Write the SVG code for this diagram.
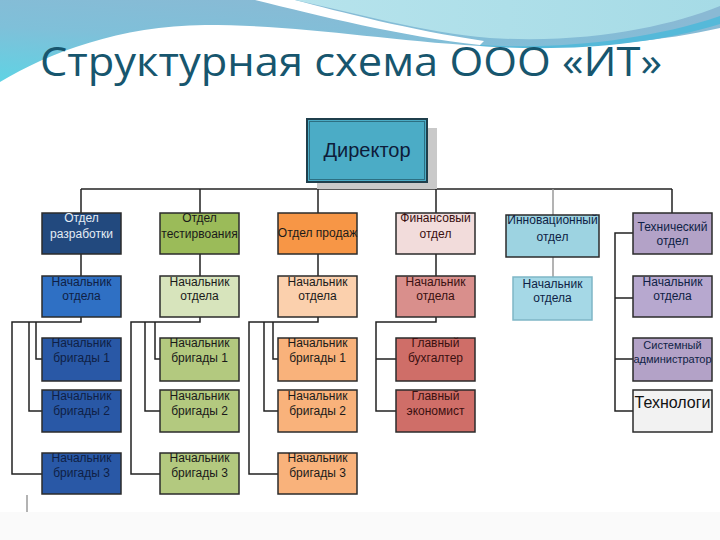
<svg xmlns="http://www.w3.org/2000/svg" width="720" height="540" viewBox="0 0 720 540">
<defs>
<linearGradient id="hdr" x1="0" y1="1" x2="0.6" y2="0">
<stop offset="0" stop-color="#5fd3e4"/>
<stop offset="0.5" stop-color="#7fc0d9"/>
<stop offset="1" stop-color="#8ab9d4"/>
</linearGradient>
<linearGradient id="cyan" x1="0" y1="0" x2="1" y2="0">
<stop offset="0" stop-color="#b6e3ec"/>
<stop offset="1" stop-color="#a6dbe6"/>
</linearGradient>
<style>
.b{stroke:#2b2b2b;stroke-width:1.5}
.t{font-family:"Liberation Sans",Arial,sans-serif;font-size:12px;text-anchor:middle;fill:#1a1a1a}
.n{fill:#0f1f45}
.w{fill:#e4ecf5}
.m{fill:#3a1010}
.c path,.c line{fill:none;stroke:#222;stroke-width:1.5}
.c .g{stroke:#9a9a9a}
</style>
</defs>
<rect width="720" height="540" fill="#ffffff"/>
<rect x="0" y="512" width="720" height="28" fill="#fafafa"/>
<path d="M0,0 H720 V28 C650,44 560,50 480,46 C380,40 300,25 205,25 C120,26 50,52 0,82 Z" fill="url(#hdr)"/>
<path d="M255,0 C320,16 400,36 480,45 L484,41 C410,30 340,12 295,0 Z" fill="#ffffff"/>
<path d="M295,0 C360,14 420,32 490,38 C590,44 670,26 720,6 V0 Z" fill="url(#cyan)"/>
<path d="M480,45 C560,50 650,40 720,16 V24 C650,46 560,52 480,46 Z" fill="#55b9d9"/>
<text x="40" y="76" font-family="'Open Sans','Noto Sans',sans-serif" font-size="40" fill="#17566e" textLength="622" lengthAdjust="spacingAndGlyphs">Структурная схема ООО «ИТ»</text>

<g class="c" id="connectors">
<line x1="367" y1="182" x2="367" y2="189" class="g"/>
<path d="M81,189 H672"/>
<path d="M81,189 V213 M200,189 V213 M318,189 V213 M436,189 V213 M672,189 V213"/>
<path class="g" d="M553,189 V215 M553,257 V277"/>
<path d="M81,254 V276 M200,254 V276 M318,254 V276 M436,254 V276"/>
<path d="M81,317 V322 H12 V474 H42 M29,322 V411 H42 M36,322 V359 H42"/>
<path d="M200,317 V322 H131 V474 H160 M145,322 V411 H160 M155,322 V359 H160"/>
<path d="M318,317 V322 H249 V474 H278 M264,322 V411 H278 M273,322 V359 H278"/>
<path d="M436,317 V322 H376 V411 H396 M376,359 H396"/>
<path d="M633,233 H615 V411 H633 M615,298 H633 M615,359 H633"/>
<line x1="27" y1="495" x2="27" y2="512" class="g"/>
</g>

<g id="director">
<rect x="317" y="128" width="120" height="61" fill="#c9c9c9"/>
<rect x="307" y="119" width="120" height="63" fill="#4bacc6" stroke="#1f3f4c" stroke-width="2"/>
<rect x="309.5" y="121.5" width="115" height="58" fill="none" stroke="#2d6f82" stroke-width="1"/>
<text x="367" y="157" font-family="'Liberation Sans',Arial,sans-serif" font-size="20" text-anchor="middle" fill="#0e1c3a">Директор</text>
</g>

<g id="dept-dev"><rect class="b" x="42" y="213" width="79" height="41" fill="#22497e"/><text class="t w" x="81.5" y="222">Отдел</text><text class="t w" x="81.5" y="238">разработки</text></g>
<g id="dept-test"><rect class="b" x="160" y="213" width="79" height="41" fill="#9bbb59"/><text class="t" x="199.5" y="222">Отдел</text><text class="t" x="199.5" y="238">тестирвоания</text></g>
<g id="dept-sales"><rect class="b" x="278" y="213" width="79" height="41" fill="#f79646"/><text class="t" x="317.5" y="237">Отдел продаж</text></g>
<g id="dept-fin"><rect class="b" x="396" y="213" width="79" height="41" fill="#f2dcdb"/><text class="t m" x="435.5" y="222">Финансовый</text><text class="t m" x="435.5" y="238">отдел</text></g>
<g id="dept-innov"><rect class="b" x="506" y="215" width="93" height="42" fill="#9dd3e1" stroke="#3a3a3a"/><text class="t n" x="552.5" y="224">Инновационный</text><text class="t n" x="552.5" y="241">отдел</text></g>
<g id="dept-tech"><rect class="b" x="633" y="213" width="79" height="41" fill="#b3a2c7"/><text class="t n" x="672.5" y="231">Технический</text><text class="t n" x="672.5" y="245">отдел</text></g>

<g id="head-dev"><rect class="b" x="42" y="276" width="79" height="41" fill="#2f70c4"/><text class="t n" x="81.5" y="286">Начальник</text><text class="t n" x="81.5" y="300">отдела</text></g>
<g id="head-test"><rect class="b" x="160" y="276" width="79" height="41" fill="#d7e4bc"/><text class="t" x="199.5" y="286">Начальник</text><text class="t" x="199.5" y="300">отдела</text></g>
<g id="head-sales"><rect class="b" x="278" y="276" width="79" height="41" fill="#fbd0ad"/><text class="t" x="317.5" y="286">Начальник</text><text class="t" x="317.5" y="300">отдела</text></g>
<g id="head-fin"><rect class="b" x="396" y="276" width="79" height="41" fill="#d98f8c"/><text class="t m" x="435.5" y="286">Начальник</text><text class="t m" x="435.5" y="300">отдела</text></g>
<g id="head-innov"><rect x="513" y="277" width="79" height="43" fill="#a5d8e6" stroke="#7fb6c6" stroke-width="1.5"/><text class="t n" x="552.5" y="288">Начальник</text><text class="t n" x="552.5" y="302">отдела</text></g>
<g id="head-tech"><rect class="b" x="633" y="276" width="79" height="41" fill="#b7a8cf"/><text class="t n" x="672.5" y="286">Начальник</text><text class="t n" x="672.5" y="300">отдела</text></g>

<g id="dev-b1"><rect class="b" x="42" y="338" width="79" height="43" fill="#2958a6"/><text class="t n" x="81.5" y="347">Начальник</text><text class="t n" x="81.5" y="362">бригады 1</text></g>
<g id="dev-b2"><rect class="b" x="42" y="390" width="79" height="42" fill="#2958a6"/><text class="t n" x="81.5" y="400">Начальник</text><text class="t n" x="81.5" y="415">бригады 2</text></g>
<g id="dev-b3"><rect class="b" x="42" y="453" width="79" height="41" fill="#2958a6"/><text class="t n" x="81.5" y="462">Начальник</text><text class="t n" x="81.5" y="477">бригады 3</text></g>

<g id="test-b1"><rect class="b" x="160" y="338" width="79" height="43" fill="#b3c97f"/><text class="t" x="199.5" y="347">Начальник</text><text class="t" x="199.5" y="362">бригады 1</text></g>
<g id="test-b2"><rect class="b" x="160" y="390" width="79" height="42" fill="#b3c97f"/><text class="t" x="199.5" y="400">Начальник</text><text class="t" x="199.5" y="415">бригады 2</text></g>
<g id="test-b3"><rect class="b" x="160" y="453" width="79" height="41" fill="#b3c97f"/><text class="t" x="199.5" y="462">Начальник</text><text class="t" x="199.5" y="477">бригады 3</text></g>

<g id="sales-b1"><rect class="b" x="278" y="338" width="79" height="43" fill="#f9b27b"/><text class="t" x="317.5" y="347">Начальник</text><text class="t" x="317.5" y="362">бригады 1</text></g>
<g id="sales-b2"><rect class="b" x="278" y="390" width="79" height="42" fill="#f9b27b"/><text class="t" x="317.5" y="400">Начальник</text><text class="t" x="317.5" y="415">бригады 2</text></g>
<g id="sales-b3"><rect class="b" x="278" y="453" width="79" height="41" fill="#f9b27b"/><text class="t" x="317.5" y="462">Начальник</text><text class="t" x="317.5" y="477">бригады 3</text></g>

<g id="fin-acc"><rect class="b" x="396" y="338" width="79" height="43" fill="#cf6e68"/><text class="t m" x="435.5" y="347">Главный</text><text class="t m" x="435.5" y="362">бухгалтер</text></g>
<g id="fin-eco"><rect class="b" x="396" y="390" width="79" height="42" fill="#cf6e68"/><text class="t m" x="435.5" y="400">Главный</text><text class="t m" x="435.5" y="415">экономист</text></g>

<g id="tech-admin"><rect class="b" x="633" y="338" width="79" height="43" fill="#b3a2c7"/><text class="t n" x="672.5" y="349" style="font-size:11px">Системный</text><text class="t n" x="672.5" y="363" style="font-size:11px">администратор</text></g>
<g id="tech-tech"><rect class="b" x="633" y="390" width="79" height="42" fill="#f2f2f2"/><text class="t" x="672.5" y="408" style="font-size:16px;fill:#111">Технологи</text></g>
</svg>
